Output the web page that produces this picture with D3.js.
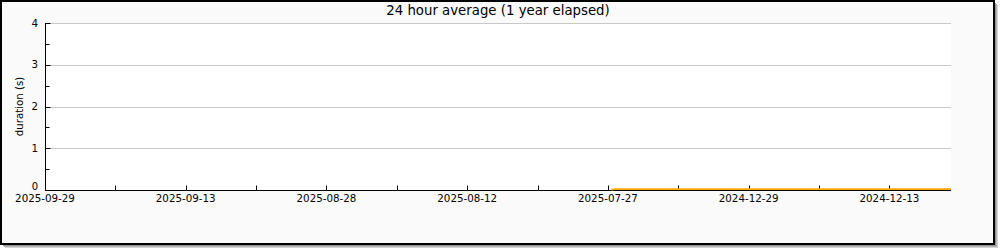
<!DOCTYPE html>
<html><head><meta charset="utf-8">
<script src="https://cdn.jsdelivr.net/npm/d3@7"></script>
<style>html,body{margin:0;padding:0;background:#fff;}svg{display:block;font-family:"DejaVu Sans",sans-serif;}</style>
</head><body>
<svg id="c" width="1000" height="250"></svg>
<script>
const title = "24 hour average (1 year elapsed)";
const yLabel = "duration (s)";
const dayDomain = [0, 103];
const tickDays = [0, 8, 16, 24, 32, 40, 48, 56, 64, 72, 80, 88, 96];
const tickLabels = ["2025-09-29", "", "2025-09-13", "", "2025-08-28", "", "2025-08-12", "", "2025-07-27", "", "2024-12-29", "", "2024-12-13"];
const yTicks = [0, 1, 2, 3, 4];
const yMinorTicks = [0.5, 1.5, 2.5, 3.5];
const seriesDays = [64.4, 64.8, 66, 72, 80, 88, 96, 103];
const seriesValues = [0.005, 0.02, 0.02, 0.02, 0.02, 0.02, 0.02, 0.02];

const svg = d3.select("#c");
const W = 995, H = 245;
// shadow
[[5,"#d4d4d4"],[4,"#b4b4b4"],[3,"#949494"],[2,"#6a6a6a"]].forEach(([o,c]) => {
  svg.append("rect").attr("x", o).attr("y", o).attr("width", W - 2).attr("height", H - 2).attr("fill", c);
});
svg.append("rect").attr("x", 1).attr("y", 1).attr("width", W - 2).attr("height", H - 2)
  .attr("fill", "#fafafa").attr("stroke", "#000").attr("stroke-width", 2);

const x = d3.scaleLinear().domain(dayDomain).range([45, 951]);
const y = d3.scaleLinear().domain([0, 4]).range([190, 23]);
const px = v => Math.round(v) + 0.5;

svg.append("rect").attr("x", x(dayDomain[0])).attr("y", y(4)).attr("width", x(dayDomain[1]) - x(dayDomain[0])).attr("height", y(0) - y(4)).attr("fill", "#fff");

// gridlines
svg.append("g").selectAll("line").data(yTicks.filter(d => d > 0)).join("line")
  .attr("x1", x(dayDomain[0])).attr("x2", x(dayDomain[1]))
  .attr("y1", d => px(y(d))).attr("y2", d => px(y(d)))
  .attr("stroke", "#c8c8c8").attr("stroke-width", 1);

// y ticks
svg.append("g").selectAll("line").data(yTicks).join("line")
  .attr("x1", px(x(0))).attr("x2", px(x(0)) + 5)
  .attr("y1", d => px(y(d))).attr("y2", d => px(y(d))).attr("stroke", "#000");
svg.append("g").selectAll("line").data(yMinorTicks).join("line")
  .attr("x1", px(x(0))).attr("x2", px(x(0)) + 4)
  .attr("y1", d => px(y(d))).attr("y2", d => px(y(d))).attr("stroke", "#000");
svg.append("g").selectAll("text").data(yTicks).join("text")
  .attr("x", 38).attr("y", d => d === 0 ? y(d) : y(d) + 3.7)
  .attr("text-anchor", "end").attr("font-size", d => d === 0 ? 10 : 10.3).attr("fill", "#000").text(d => d);

// x ticks
svg.append("g").selectAll("line").data(tickDays).join("line")
  .attr("x1", d => px(x(d))).attr("x2", d => px(x(d)))
  .attr("y1", px(y(0))).attr("y2", px(y(0)) - 5).attr("stroke", "#000");
svg.append("g").selectAll("text").data(tickDays).join("text")
  .attr("x", d => x(d)).attr("y", 202).attr("text-anchor", "middle")
  .attr("font-size", 10.3).attr("fill", "#000").text((d, i) => tickLabels[i]);

// axes lines
svg.append("line").attr("x1", px(x(0))).attr("x2", px(x(0))).attr("y1", y(4)).attr("y2", px(y(0))).attr("stroke", "#000");
svg.append("line").attr("x1", px(x(0))).attr("x2", x(dayDomain[1])).attr("y1", px(y(0))).attr("y2", px(y(0))).attr("stroke", "#000");

// series
const line = d3.line().x((d, i) => x(seriesDays[i])).y(d => y(d));
svg.append("path").datum(seriesValues).attr("d", line)
  .attr("fill", "none").attr("stroke", "#ffa500").attr("stroke-width", 1.6);

// title
svg.append("text").attr("x", 498).attr("y", 15).attr("text-anchor", "middle")
  .attr("font-size", 13.3).attr("fill", "#000").text(title);
svg.append("text").attr("transform", "translate(23," + ((y(0) + y(4)) / 2) + ") rotate(-90)")
  .attr("text-anchor", "middle").attr("font-size", 10.2).attr("fill", "#000").text(yLabel);
</script>
</body></html>
